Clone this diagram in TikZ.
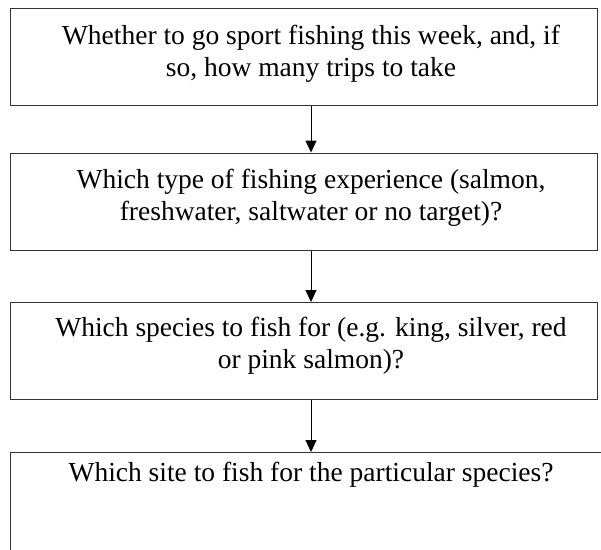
\documentclass[tikz,border=0pt]{standalone}
\usepackage{fontspec}
\setmainfont{Liberation Serif}
\usetikzlibrary{arrows.meta}
\begin{document}
\begin{tikzpicture}[x=1pt,y=-1pt,
    box/.style={draw=black!80,line width=1pt,inner sep=0pt,minimum width=587pt,minimum height=97pt},
    lbl/.style={align=center,font=\fontsize{27.5}{32}\selectfont},
    flow/.style={line width=1pt,-{Triangle[width=11pt,length=12pt]}}]
      \useasboundingbox (0,0) rectangle (601,549);
      \clip (0,0) rectangle (601,549);
      \node[box] (b1) at (303.5,56.5) {};
      \node[box] (b2) at (303.5,201.5) {};
      \node[box] (b3) at (303.5,351) {};
      \node[box,minimum width=640pt,minimum height=200pt,anchor=north west] (b4) at (10,452) {};
      \node[lbl] (t1) at (311,54) {Whether to go sport fishing this week, and, if\\so, how many trips to take};
      \node[lbl] (t2) at (311,198) {Which type of fishing experience (salmon,\\freshwater, saltwater or no target)?};
      \node[lbl] (t3) at (311,346) {Which species to fish for (e.g. king, silver, red\\or pink salmon)?};
      \node[lbl] (t4) at (311,475) {Which site to fish for the particular species?};
      \draw[flow] (t1 |- b1.south) -- (t1 |- b2.north);
      \draw[flow] (t2 |- b2.south) -- (t2 |- b3.north);
      \draw[flow] (t3 |- b3.south) -- (t3 |- b4.north);
    \end{tikzpicture}
\end{document}
